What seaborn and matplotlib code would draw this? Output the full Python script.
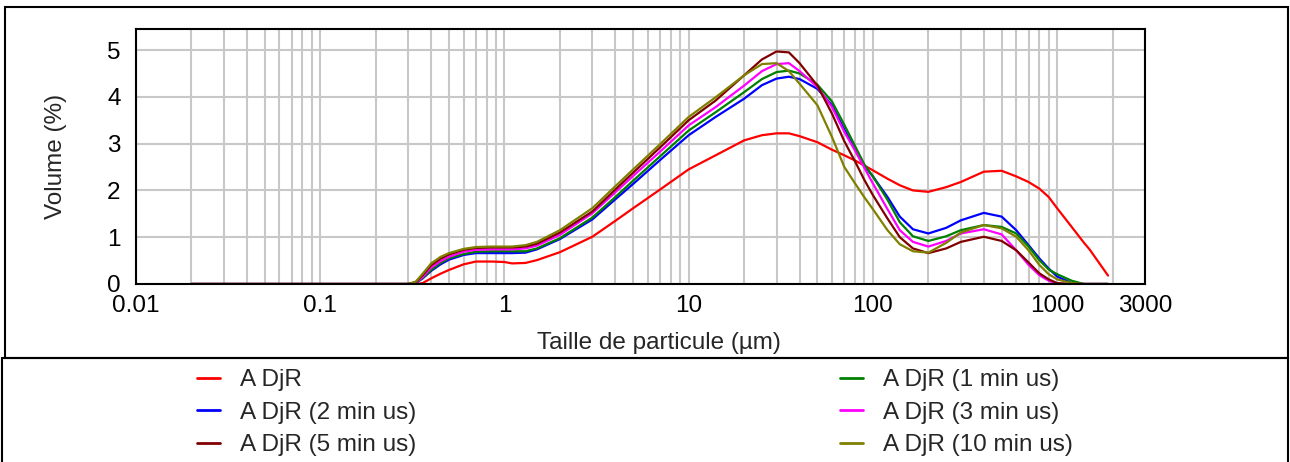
import matplotlib
matplotlib.use("Agg")
import matplotlib.pyplot as plt
import numpy as np
import pandas as pd
import seaborn as sns
from matplotlib.patches import Rectangle

# ---- data ----
sizes = [0.02, 0.3, 0.33, 0.36, 0.4, 0.45, 0.5, 0.6, 0.7, 0.85, 1.0, 1.1, 1.3, 1.5,
         2, 3, 4, 5, 7, 10, 14, 20, 25, 30, 35, 40, 50, 60, 70, 80, 90, 100,
         120, 140, 165, 200, 250, 300, 400, 500, 600, 700, 800, 900, 1000,
         1200, 1400, 1500, 1890]

adjr = [0, 0, 0, 0.02, 0.12, 0.22, 0.30, 0.42, 0.48, 0.48, 0.47, 0.44, 0.45, 0.51,
        0.68, 1.01, 1.35, 1.62, 2.02, 2.45, 2.75, 3.07, 3.18, 3.22, 3.22, 3.16, 3.03, 2.87,
        2.75, 2.64, 2.53, 2.43, 2.25, 2.11, 2.00, 1.97, 2.07, 2.18, 2.40, 2.42, 2.30,
        2.18, 2.04, 1.86, 1.62, 1.22, 0.88, 0.74, 0.18]

adjr_1min = [0, 0, 0.02, 0.13, 0.30, 0.45, 0.55, 0.64, 0.69, 0.70, 0.70, 0.70, 0.70, 0.76,
             0.98, 1.42, 1.86, 2.21, 2.73, 3.28, 3.67, 4.10, 4.38, 4.53, 4.56, 4.50, 4.26, 3.90,
             3.40, 2.95, 2.55, 2.30, 1.80, 1.32, 1.02, 0.92, 1.02, 1.15, 1.26, 1.22, 1.08,
             0.80, 0.51, 0.31, 0.21, 0.07, 0, 0, 0]

adjr_2min = [0, 0, 0.02, 0.12, 0.28, 0.42, 0.52, 0.62, 0.66, 0.66, 0.66, 0.66, 0.67, 0.74,
             0.96, 1.38, 1.81, 2.14, 2.65, 3.18, 3.57, 3.96, 4.25, 4.39, 4.43, 4.38, 4.17, 3.82,
             3.30, 2.88, 2.52, 2.30, 1.86, 1.44, 1.17, 1.08, 1.20, 1.36, 1.52, 1.44, 1.15,
             0.83, 0.55, 0.33, 0.16, 0.02, 0, 0, 0]

adjr_3min = [0, 0, 0.03, 0.15, 0.35, 0.49, 0.58, 0.69, 0.73, 0.74, 0.74, 0.74, 0.76, 0.82,
             1.05, 1.51, 1.96, 2.31, 2.83, 3.39, 3.78, 4.24, 4.55, 4.70, 4.72, 4.55, 4.21, 3.78,
             3.25, 2.85, 2.48, 2.15, 1.60, 1.15, 0.90, 0.80, 0.92, 1.08, 1.17, 1.06, 0.72,
             0.41, 0.19, 0.07, 0, 0, 0, 0, 0]

adjr_5min = [0, 0, 0.04, 0.19, 0.40, 0.54, 0.63, 0.73, 0.77, 0.78, 0.78, 0.78, 0.80, 0.86,
             1.10, 1.55, 2.02, 2.38, 2.92, 3.50, 3.92, 4.46, 4.80, 4.97, 4.95, 4.72, 4.24, 3.64,
             3.05, 2.62, 2.22, 1.90, 1.40, 1.00, 0.76, 0.66, 0.76, 0.90, 1.01, 0.92, 0.72,
             0.46, 0.23, 0.10, 0.02, 0, 0, 0, 0]

adjr_10min = [0, 0, 0.05, 0.22, 0.44, 0.58, 0.66, 0.75, 0.79, 0.80, 0.80, 0.80, 0.83, 0.90,
              1.15, 1.62, 2.09, 2.45, 2.99, 3.57, 3.99, 4.46, 4.70, 4.72, 4.55, 4.28, 3.82, 3.14,
              2.50, 2.15, 1.85, 1.60, 1.15, 0.85, 0.70, 0.67, 0.88, 1.10, 1.26, 1.19, 1.01,
              0.72, 0.41, 0.21, 0.10, 0.02, 0, 0, 0]

series_names = ["A DjR", "A DjR (1 min us)", "A DjR (2 min us)",
                "A DjR (3 min us)", "A DjR (5 min us)", "A DjR (10 min us)"]
series_values = [adjr, adjr_1min, adjr_2min, adjr_3min, adjr_5min, adjr_10min]
series_colors = ["#ff0000", "#008000", "#0000ff", "#ff00ff", "#800000", "#808000"]

x_tick_values = [0.01, 0.1, 1, 10, 100, 1000, 3000]
x_tick_labels = ["0.01", "0.1", "1", "10", "100", "1000", "3000"]
y_tick_values = [0, 1, 2, 3, 4, 5]

# ---- build long-form table ----
df = pd.concat([pd.DataFrame({"size": sizes, "vol": v, "series": n})
                for n, v in zip(series_names, series_values)], ignore_index=True)
palette = dict(zip(series_names, series_colors))
draw_order = ["A DjR", "A DjR (2 min us)", "A DjR (1 min us)",
              "A DjR (3 min us)", "A DjR (5 min us)", "A DjR (10 min us)"]

sns.set_style("white")
plt.rcParams["font.family"] = ["Liberation Sans", "DejaVu Sans"]

FS = 17.5
W, H = 1290, 462
fig = plt.figure(figsize=(W / 100, H / 100), dpi=100)
ax = fig.add_axes([136 / W, (H - 284) / H, (1145 - 136) / W, (284 - 29) / H])
ax.set_xscale("log")

sns.lineplot(data=df, x="size", y="vol", hue="series", hue_order=draw_order,
             palette=palette, estimator=None, sort=False, linewidth=1.6, ax=ax,
             legend=True)

ax.set_xlim(0.01, 3000)
ax.set_ylim(0, 5.45)

minor = [k * 10.0 ** e for e in range(-2, 4) for k in range(2, 10) if k * 10.0 ** e <= 2000]
ax.set_xticks(x_tick_values)
ax.set_xticklabels(x_tick_labels)
ax.set_xticks(minor, minor=True)
ax.xaxis.set_minor_formatter(matplotlib.ticker.NullFormatter())
ax.set_yticks(y_tick_values)
ax.set_yticklabels([str(v) for v in y_tick_values])

ax.grid(True, which="both", axis="x", color="#c8c8c8", linewidth=1.5)
ax.grid(True, which="major", axis="y", color="#c8c8c8", linewidth=1.5)
ax.set_axisbelow(True)

ax.tick_params(axis="both", which="both", length=0, labelsize=FS, colors="black")
ax.tick_params(axis="x", pad=8)
ax.tick_params(axis="y", pad=11)
for s in ax.spines.values():
    s.set_visible(True)
    s.set_color("black")
    s.set_linewidth(1.5)

ax.set_xlabel("Taille de particule (µm)", fontsize=FS)
ax.xaxis.set_label_coords(0.518, -0.187)
ax.set_ylabel("Volume (%)", fontsize=FS)
ax.yaxis.set_label_coords(-0.068, 0.5)

# legend
handles, labels = ax.get_legend_handles_labels()
hmap = dict(zip(labels, handles))
ax.get_legend().remove()
for h in handles:
    h.set_linewidth(2)

col1 = ["A DjR", "A DjR (2 min us)", "A DjR (5 min us)"]
col2 = ["A DjR (1 min us)", "A DjR (3 min us)", "A DjR (10 min us)"]
legkw = dict(loc="upper left", frameon=False, borderpad=0, borderaxespad=0,
             handlelength=0.95, handletextpad=0.8, labelspacing=0.44, fontsize=FS)
leg1 = fig.legend([hmap[n] for n in col1], col1,
                  bbox_to_anchor=(197 / W, (H - 369) / H), **legkw)
leg2 = fig.legend([hmap[n] for n in col2], col2,
                  bbox_to_anchor=(840 / W, (H - 369) / H), **legkw)

# frames
fig.add_artist(Rectangle((5 / W, (H - 358) / H), 1283 / W, 351 / H,
                         transform=fig.transFigure, fill=False, edgecolor="black", linewidth=1.5))
fig.add_artist(Rectangle((2 / W, -0.02), 1286 / W, (H - 358) / H + 0.02,
                         transform=fig.transFigure, fill=False, edgecolor="black", linewidth=1.5))

fig.savefig("out.png", dpi=100, facecolor="white")
